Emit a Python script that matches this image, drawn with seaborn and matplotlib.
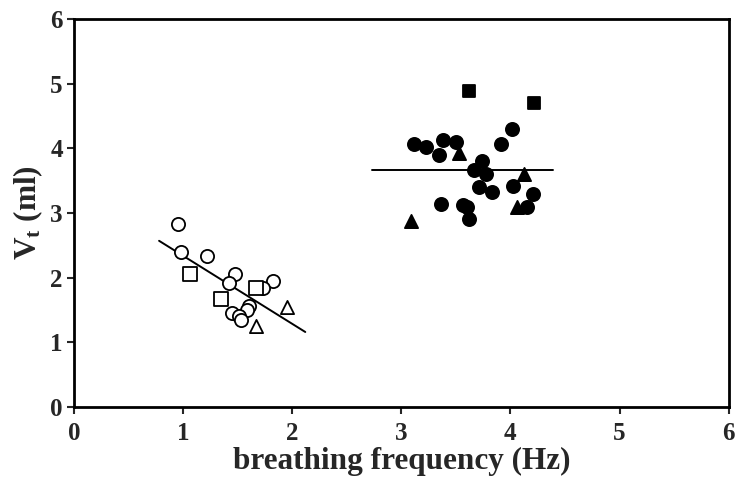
import numpy as np
import pandas as pd
import matplotlib
matplotlib.use('Agg')
import matplotlib.pyplot as plt
import seaborn as sns

sns.set_style('white')
plt.rcParams['font.family'] = ['Liberation Serif', 'DejaVu Serif']
plt.rcParams['font.weight'] = 'bold'
plt.rcParams['mathtext.fontset'] = 'custom'
plt.rcParams['mathtext.rm'] = 'Liberation Serif:bold'
plt.rcParams['mathtext.it'] = 'Liberation Serif:bold'

# ── dados ─────────────────────────────────────────────────────
# grupo baixo (marcadores abertos)
open_circ_x = [0.95, 0.98, 1.22, 1.48, 1.42, 1.82, 1.73, 1.60, 1.59, 1.45, 1.51, 1.53]
open_circ_y = [2.83, 2.39, 2.33, 2.06, 1.92, 1.95, 1.84, 1.56, 1.50, 1.45, 1.40, 1.35]
open_sq_x = [1.06, 1.35, 1.67]
open_sq_y = [2.06, 1.67, 1.84]
open_tri_x = [1.95, 1.67]
open_tri_y = [1.54, 1.26]
fit_low_x = [0.78, 2.12]
fit_low_y = [2.57, 1.16]

# grupo alto (marcadores cheios)
fill_circ_x = [4.01, 3.12, 3.23, 3.38, 3.50, 3.35, 3.91, 3.74, 3.67, 3.78, 3.71,
               3.83, 4.02, 4.21, 3.36, 3.57, 3.60, 3.62, 4.15]
fill_circ_y = [4.30, 4.06, 4.02, 4.13, 4.10, 3.90, 4.06, 3.81, 3.67, 3.61, 3.40,
               3.33, 3.42, 3.29, 3.14, 3.12, 3.09, 2.91, 3.10]
fill_sq_x = [3.62, 4.22]
fill_sq_y = [4.89, 4.70]
fill_tri_x = [3.53, 4.12, 3.09, 4.06]
fill_tri_y = [3.93, 3.61, 2.87, 3.10]
fit_high_x = [2.73, 4.39]
fit_high_y = [3.67, 3.67]

xticks = [0, 1, 2, 3, 4, 5, 6]
yticks = [0, 1, 2, 3, 4, 5, 6]

# ── figura ────────────────────────────────────────────────────
fig = plt.figure(figsize=(7.36, 4.82), dpi=100)
ax = fig.add_axes([0.1005, 0.1556, 0.8895, 0.805])

sns.lineplot(x=fit_low_x, y=fit_low_y, color='black', linewidth=1.4, ax=ax)
sns.lineplot(x=fit_high_x, y=fit_high_y, color='black', linewidth=1.4, ax=ax)

groups = [
    (open_circ_x, open_circ_y, 'o', 'white', 90),
    (open_sq_x, open_sq_y, 's', 'white', 90),
    (open_tri_x, open_tri_y, '^', 'white', 90),
    (fill_circ_x, fill_circ_y, 'o', 'black', 90),
    (fill_sq_x, fill_sq_y, 's', 'black', 85),
    (fill_tri_x, fill_tri_y, '^', 'black', 90),
]
for gx, gy, m, fc, s in groups:
    sns.scatterplot(x=gx, y=gy, marker=m, s=s, facecolor=fc,
                    edgecolor='black', linewidth=1.3, ax=ax, zorder=3)

ax.set_xlim(0, 6)
ax.set_ylim(0, 6)
ax.set_xticks(xticks)
ax.set_yticks(yticks)
ax.tick_params(axis='both', direction='out', length=5, width=1.5,
               labelsize=18, pad=3, bottom=True, left=True)
ax.tick_params(axis='x', pad=6)
for lab in ax.get_xticklabels() + ax.get_yticklabels():
    lab.set_fontweight('bold')
for sp in ax.spines.values():
    sp.set_linewidth(2)
    sp.set_color('black')

ax.set_xlabel('breathing frequency (Hz)', fontsize=22.5, fontweight='bold', labelpad=1)
ax.set_ylabel(r'V$_{\mathrm{t}}$ (ml)', fontsize=22.5, fontweight='bold', labelpad=4)

fig.savefig('out.png', dpi=100)
